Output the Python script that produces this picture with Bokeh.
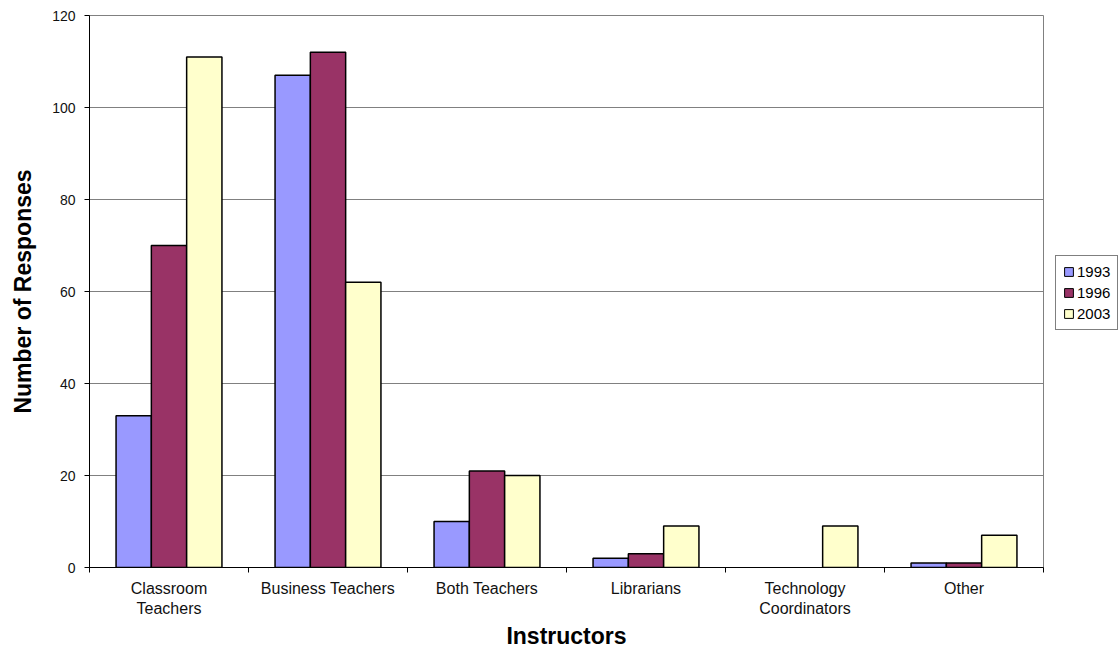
import numpy as np
from bokeh.plotting import figure
from bokeh.layouts import row
from bokeh.models import ColumnDataSource, Range1d, FixedTicker, Legend, LegendItem
from bokeh.embed import file_html
from bokeh.resources import INLINE

categories = ["Classroom\nTeachers", "Business Teachers", "Both Teachers",
              "Librarians", "Technology\nCoordinators", "Other"]
years = ["1993", "1996", "2003"]
v1993 = [33, 107, 10, 2, 0, 1]
v1996 = [70, 112, 21, 3, 0, 1]
v2003 = [111, 62, 20, 9, 9, 7]
colors = ["#9999FF", "#993366", "#FFFFCC"]
y_ticks = [0, 20, 40, 60, 80, 100, 120]

FONT = "Liberation Sans"

p = figure(width=1050, height=651, output_backend="svg", toolbar_location=None,
           x_range=Range1d(0, len(categories)), y_range=Range1d(0, 120),
           min_border_left=89, min_border_right=7, min_border_top=15, min_border_bottom=84)

centers = np.arange(len(categories)) + 0.5
bw = 0.222
series = [v1993, v1996, v2003]
for i, (vals, col) in enumerate(zip(series, colors)):
    src = ColumnDataSource(dict(x=centers + (i - 1) * bw, top=vals,
                                lc=["black" if v > 0 else None for v in vals]))
    p.vbar(x="x", top="top", bottom=0, width=bw, source=src,
           fill_color=col, line_color="lc", line_width=1.5)

# axes
p.xaxis.ticker = FixedTicker(ticks=list(centers), minor_ticks=list(range(len(categories) + 1)))
p.xaxis.major_label_overrides = {float(c): lab for c, lab in zip(centers, categories)}
p.xaxis.major_tick_out = 0
p.xaxis.major_tick_in = 0
p.xaxis.minor_tick_out = 5
p.xaxis.minor_tick_in = 0
p.xaxis.minor_tick_line_color = "black"
p.xaxis.major_label_standoff = 7
p.xaxis.major_label_text_font = FONT
p.xaxis.major_label_text_font_size = "16px"
p.xaxis.major_label_text_color = "#111111"
p.xaxis.axis_label = "Instructors"
p.xaxis.axis_label_text_font = FONT
p.xaxis.axis_label_text_font_size = "23px"
p.xaxis.axis_label_text_font_style = "bold"
p.xaxis.axis_label_text_color = "black"
p.xaxis.axis_label_standoff = 3
p.xaxis.axis_line_color = "black"

p.yaxis.ticker = FixedTicker(ticks=y_ticks, minor_ticks=[])
p.yaxis.major_tick_out = 5
p.yaxis.major_tick_in = 0
p.yaxis.major_label_standoff = 9
p.yaxis.major_label_text_font = FONT
p.yaxis.major_label_text_font_size = "14px"
p.yaxis.major_label_text_color = "#111111"
p.yaxis.axis_label = "Number of Responses"
p.yaxis.axis_label_text_font = FONT
p.yaxis.axis_label_text_font_size = "23px"
p.yaxis.axis_label_text_font_style = "bold"
p.yaxis.axis_label_text_color = "black"
p.yaxis.axis_label_standoff = 13
p.yaxis.axis_line_color = "black"

p.xgrid.grid_line_color = None
p.ygrid.grid_line_color = "#808080"
p.ygrid.grid_line_width = 1
p.outline_line_color = "#808080"
p.outline_line_width = 1
p.background_fill_color = "white"
p.border_fill_color = "white"

# legend panel to the right of the plot area
pl = figure(width=69, height=651, output_backend="svg", toolbar_location=None,
            x_axis_location=None, y_axis_location=None,
            x_range=Range1d(0, len(categories)), y_range=Range1d(0, 120),
            min_border=0, min_border_left=0, min_border_right=0,
            min_border_top=0, min_border_bottom=0)
pl.grid.grid_line_color = None
pl.outline_line_color = None
pl.background_fill_color = "white"
pl.border_fill_color = "white"
leg_renderers = []
for vals, col in zip(series, colors):
    r = pl.vbar(x=centers, top=vals, width=bw, fill_color=col,
                line_color="black", line_width=1)
    r.visible = False
    leg_renderers.append(r)
legend = Legend(items=[LegendItem(label=y, renderers=[r]) for y, r in zip(years, leg_renderers)],
                location=(5, 237), orientation="vertical",
                label_text_font=FONT, label_text_font_size="15px",
                label_text_color="black",
                glyph_width=11, glyph_height=11, label_height=17, label_standoff=3,
                spacing=4, padding=7, margin=0,
                border_line_color="black", border_line_width=1,
                background_fill_color="white",
                inactive_fill_alpha=0.0)
pl.add_layout(legend, "center")

layout = row(p, pl, spacing=0)
open("out.html", "w").write(file_html(layout, INLINE))
